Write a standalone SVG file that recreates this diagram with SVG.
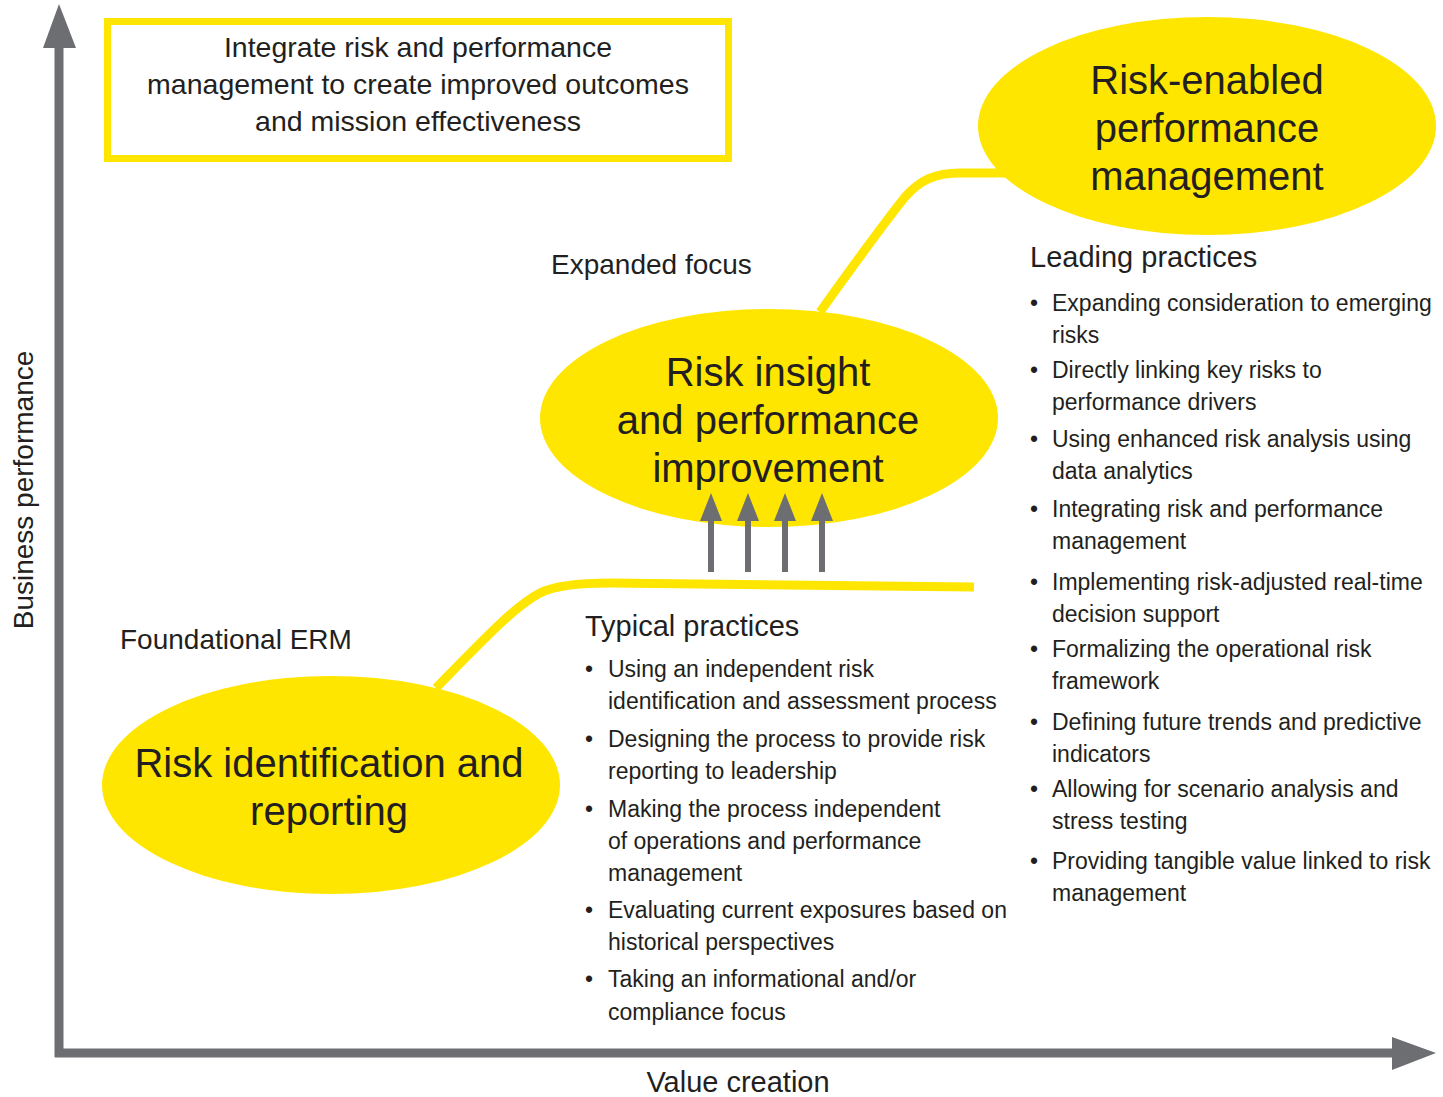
<svg xmlns="http://www.w3.org/2000/svg" width="1443" height="1097" viewBox="0 0 1443 1097">
<style>
  text { font-family: "Liberation Sans", Arial, sans-serif; fill: #231f20; }
  .big { font-size: 40px; text-anchor: middle; }
  .box { font-size: 28.5px; text-anchor: middle; }
  .mid { font-size: 28px; }
  .head { font-size: 29px; }
  .li { font-size: 23px; }
  .node { fill: #ffe600; }
  .curve { fill: none; stroke: #ffe600; stroke-width: 9; }
  .axis { stroke: #6d6e71; stroke-width: 9; fill: none; }
  .grey { fill: #6d6e71; }
  .up { stroke: #6d6e71; stroke-width: 6; }
</style>
<rect width="1443" height="1097" fill="#ffffff"/>

<g id="connectors">
  <path class="curve" d="M436,688 C485,638 515,606 540,593 C556,585 580,583 610,583 L974,587"/>
  <path class="curve" d="M820,312 C855,263 885,222 905,197 C920,180 935,173 960,173 L1010,173"/>
</g>

<g id="axes">
  <line class="axis" x1="59" y1="46" x2="59" y2="1057"/>
  <polygon class="grey" points="59,4 76,48 43,48"/>
  <line class="axis" x1="55" y1="1053" x2="1394" y2="1053"/>
  <polygon class="grey" points="1436,1053 1392,1037 1392,1070"/>
  <text class="mid" transform="translate(33,490) rotate(-90)" text-anchor="middle">Business performance</text>
  <text class="mid" x="738" y="1092" text-anchor="middle" style="font-size:29px">Value creation</text>
</g>

<g id="goal-box">
  <rect x="107.5" y="21.5" width="621" height="137" fill="#ffffff" stroke="#ffe600" stroke-width="7"/>
  <text class="box" x="418" y="57">Integrate risk and performance</text>
  <text class="box" x="418" y="94">management to create improved outcomes</text>
  <text class="box" x="418" y="131">and mission effectiveness</text>
</g>

<g id="node-foundational">
  <ellipse class="node" cx="331" cy="785" rx="229" ry="109"/>
  <text class="big" x="329" y="777">Risk identification and</text>
  <text class="big" x="329" y="825">reporting</text>
</g>

<g id="node-insight">
  <ellipse class="node" cx="769" cy="418" rx="229" ry="109"/>
  <text class="big" x="768" y="386">Risk insight</text>
  <text class="big" x="768" y="434">and performance</text>
  <text class="big" x="768" y="482">improvement</text>
</g>

<g id="node-enabled">
  <ellipse class="node" cx="1207" cy="126" rx="229" ry="109"/>
  <text class="big" x="1207" y="94">Risk-enabled</text>
  <text class="big" x="1207" y="142">performance</text>
  <text class="big" x="1207" y="190">management</text>
</g>

<g id="up-arrows">
  <line class="up" x1="711" y1="572" x2="711" y2="515"/>
  <polygon class="grey" points="711,493 722,521 700,521"/>
  <line class="up" x1="748" y1="572" x2="748" y2="515"/>
  <polygon class="grey" points="748,493 759,521 737,521"/>
  <line class="up" x1="785" y1="572" x2="785" y2="515"/>
  <polygon class="grey" points="785,493 796,521 774,521"/>
  <line class="up" x1="822" y1="572" x2="822" y2="515"/>
  <polygon class="grey" points="822,493 833,521 811,521"/>
</g>

<g id="labels">
  <text class="mid" x="551" y="274">Expanded focus</text>
  <text class="mid" x="120" y="649">Foundational ERM</text>
</g>

<g id="typical-practices">
  <text class="head" x="585" y="636">Typical practices</text>
  <g class="li">
    <text x="585" y="677">•</text><text x="608" y="677">Using an independent risk</text>
    <text x="608" y="709">identification and assessment process</text>
    <text x="585" y="747">•</text><text x="608" y="747">Designing the process to provide risk</text>
    <text x="608" y="779">reporting to leadership</text>
    <text x="585" y="817">•</text><text x="608" y="817">Making the process independent</text>
    <text x="608" y="849">of operations and performance</text>
    <text x="608" y="881">management</text>
    <text x="585" y="918">•</text><text x="608" y="918">Evaluating current exposures based on</text>
    <text x="608" y="950">historical perspectives</text>
    <text x="585" y="987">•</text><text x="608" y="987">Taking an informational and/or</text>
    <text x="608" y="1020">compliance focus</text>
  </g>
</g>

<g id="leading-practices">
  <text class="head" x="1030" y="267">Leading practices</text>
  <g class="li">
    <text x="1030" y="311">•</text><text x="1052" y="311">Expanding consideration to emerging</text>
    <text x="1052" y="343">risks</text>
    <text x="1030" y="378">•</text><text x="1052" y="378">Directly linking key risks to</text>
    <text x="1052" y="410">performance drivers</text>
    <text x="1030" y="447">•</text><text x="1052" y="447">Using enhanced risk analysis using</text>
    <text x="1052" y="479">data analytics</text>
    <text x="1030" y="517">•</text><text x="1052" y="517">Integrating risk and performance</text>
    <text x="1052" y="549">management</text>
    <text x="1030" y="590">•</text><text x="1052" y="590">Implementing risk-adjusted real-time</text>
    <text x="1052" y="622">decision support</text>
    <text x="1030" y="657">•</text><text x="1052" y="657">Formalizing the operational risk</text>
    <text x="1052" y="689">framework</text>
    <text x="1030" y="730">•</text><text x="1052" y="730">Defining future trends and predictive</text>
    <text x="1052" y="762">indicators</text>
    <text x="1030" y="797">•</text><text x="1052" y="797">Allowing for scenario analysis and</text>
    <text x="1052" y="829">stress testing</text>
    <text x="1030" y="869">•</text><text x="1052" y="869">Providing tangible value linked to risk</text>
    <text x="1052" y="901">management</text>
  </g>
</g>
</svg>
